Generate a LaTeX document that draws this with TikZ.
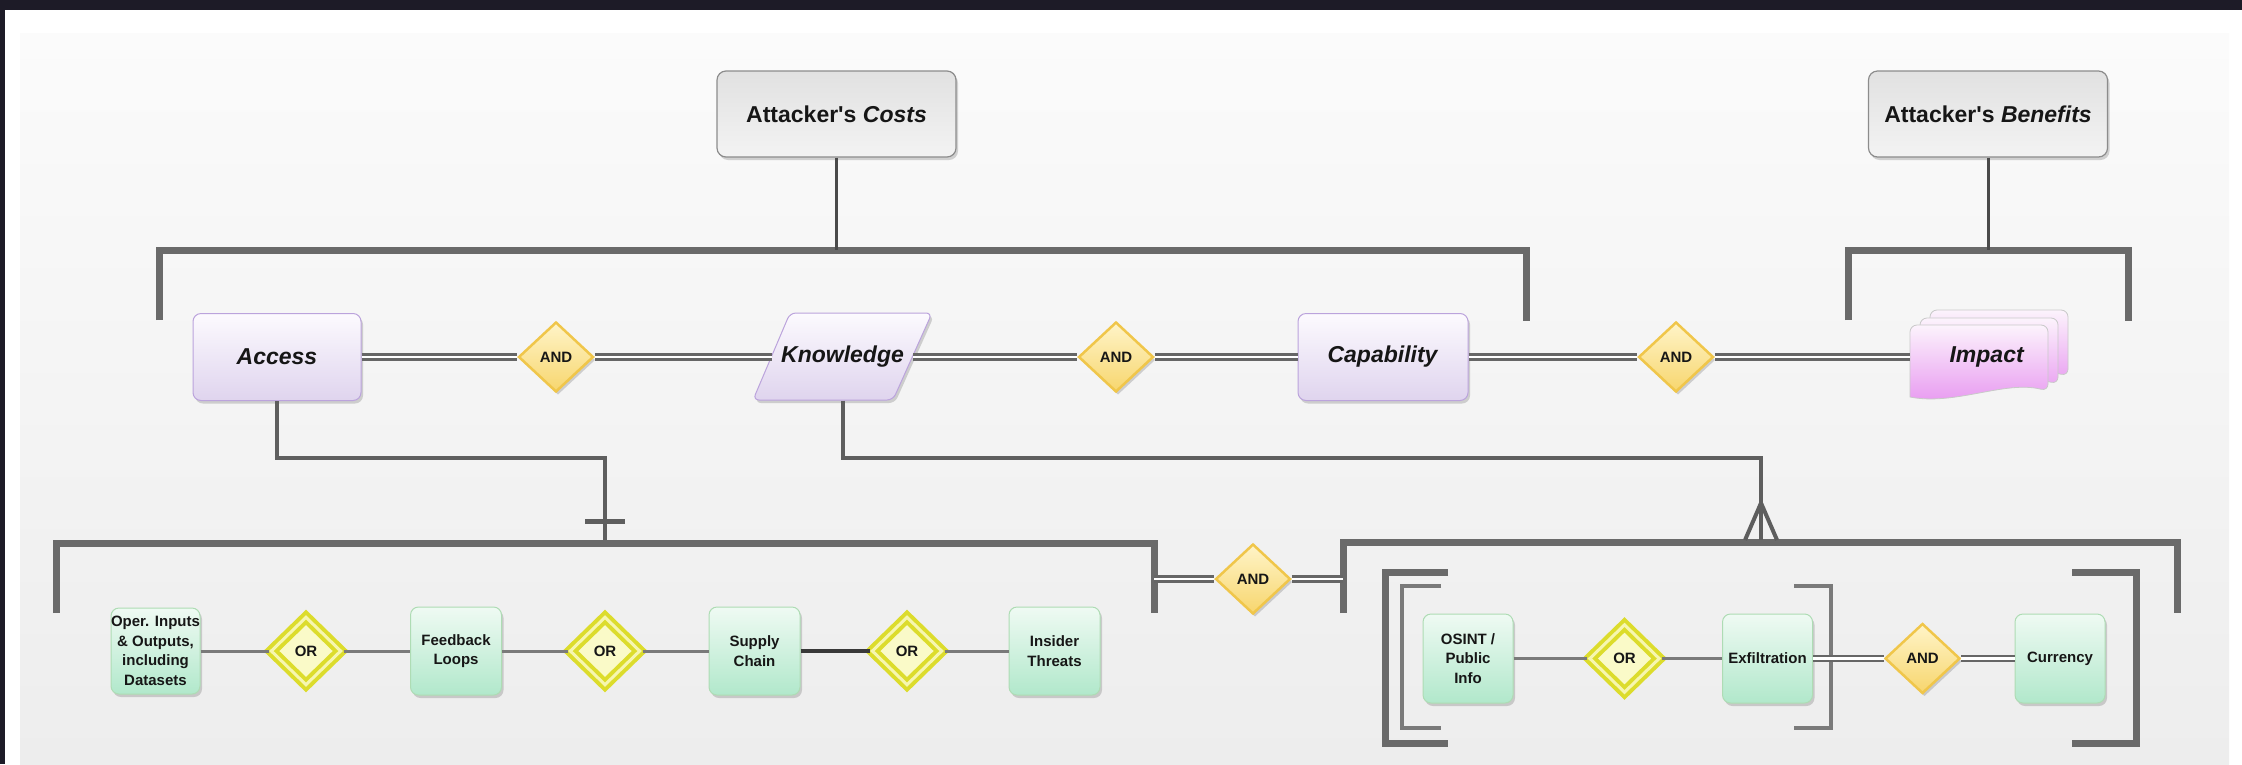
\documentclass[tikz,border=0pt]{standalone}
\usepackage{fontspec}
\newfontfamily\labfont{Liberation Sans}
\usetikzlibrary{shapes.geometric,shadows}

\definecolor{frame}{HTML}{1D1B27}
\definecolor{panelTop}{HTML}{FBFBFB}
\definecolor{panelBot}{HTML}{EDEDED}
\definecolor{barGray}{HTML}{6A6A6A}
\definecolor{leadGray}{HTML}{5E5E5E}
\definecolor{stemGray}{HTML}{4A4A4A}
\definecolor{thinGray}{HTML}{7A7A7A}
\definecolor{dlineGray}{HTML}{666666}
\definecolor{costEdge}{HTML}{8C8C8C}
\definecolor{costTop}{HTML}{E1E1E1}
\definecolor{costBot}{HTML}{F3F3F3}
\definecolor{purpEdge}{HTML}{BBA3DC}
\definecolor{purpTop}{HTML}{FCFAFE}
\definecolor{purpBot}{HTML}{DFD4EE}
\definecolor{greenEdge}{HTML}{AEDCB4}
\definecolor{greenTop}{HTML}{EFFAF3}
\definecolor{greenBot}{HTML}{B1E8CB}
\definecolor{andEdge}{HTML}{F0C64A}
\definecolor{andTop}{HTML}{FFF4C8}
\definecolor{andBot}{HTML}{F7D66E}
\definecolor{orOuter}{HTML}{DCDC2C}
\definecolor{orPale}{HTML}{F6F6B0}
\definecolor{orCenter}{HTML}{FAFAC8}
\definecolor{pinkTop}{HTML}{FCF3FC}
\definecolor{pinkBot}{HTML}{E796F0}
\definecolor{pageEdge}{HTML}{C9C9C9}
\definecolor{ink}{HTML}{161616}

\tikzset{
  softshadow/.style={drop shadow={shadow xshift=2pt,shadow yshift=-3pt,opacity=0.3,fill=black!55}},
  bigtxt/.style={font=\labfont\bfseries\fontsize{23}{27}\selectfont,text=ink},
  smalltxt/.style={font=\labfont\bfseries\fontsize{15}{19.5}\selectfont,text=ink},
  costbox/.style={bigtxt,rectangle,rounded corners=9pt,draw=costEdge,line width=1.2pt,
    top color=costTop,bottom color=costBot,minimum width=239pt,minimum height=86pt,
    inner sep=0pt,softshadow},
  purplebox/.style={bigtxt,rectangle,rounded corners=8pt,draw=purpEdge,line width=1pt,
    top color=purpTop,bottom color=purpBot,minimum width=168pt,minimum height=87pt,
    inner sep=0pt,softshadow},
  purpleshape/.style={draw=purpEdge,line width=1pt,top color=purpTop,bottom color=purpBot,softshadow},
  greenbox/.style={smalltxt,rectangle,rounded corners=8pt,draw=greenEdge,line width=1pt,
    top color=greenTop,bottom color=greenBot,minimum width=91pt,minimum height=88pt,
    inner sep=0pt,align=center,softshadow},
  andgate/.style={smalltxt,diamond,minimum width=75pt,minimum height=70pt,inner sep=0pt,
    draw=andEdge,line width=2.5pt,top color=andTop,bottom color=andBot,softshadow},
  orgate/.style={smalltxt,diamond,minimum width=71pt,minimum height=69pt,inner sep=0pt,
    draw=orOuter,line width=4pt,double=orPale,double distance=3pt,fill=orCenter,softshadow},
  page/.style={draw=pageEdge,line width=0.8pt,top color=pinkTop,bottom color=pinkBot},
  bar/.style={draw=barGray,line width=7pt},
  thinbar/.style={draw=thinGray,line width=4pt},
  stem/.style={draw=stemGray,line width=3pt},
  lead/.style={draw=leadGray,line width=4pt},
  gline/.style={draw=thinGray,line width=3pt},
  darkline/.style={draw=ink!85,line width=3.5pt},
  dline/.style={draw=dlineGray,line width=2.6pt,double=white,double distance=2.6pt},
}

\begin{document}
\begin{tikzpicture}[x=1pt,y=-1pt]
\useasboundingbox (0,0) rectangle (2242,764);

% backdrop and canvas
\fill[frame] (0,0) rectangle (2242,764);
\fill[white] (5,10) rectangle (2242,764);
\shade[top color=panelTop,bottom color=panelBot] (20,33) rectangle (2229,764);

% ---------- brackets ----------
\draw[bar] (159,320) -- (159,250) -- (1526,250) -- (1526,321);
\draw[bar] (1848,320) -- (1848,250) -- (2128,250) -- (2128,321);
\draw[bar] (56,613) -- (56,543) -- (1154,543) -- (1154,613);
\draw[bar] (1343,613) -- (1343,542) -- (2177,542) -- (2177,613);
% nested brackets around the right-hand group
\draw[bar] (1448,572) -- (1385,572) -- (1385,743) -- (1448,743);
\draw[bar] (2072,572) -- (2136,572) -- (2136,743) -- (2072,743);
\draw[thinbar] (1441,586) -- (1402,586) -- (1402,728) -- (1441,728);
\draw[thinbar] (1794,586) -- (1831,586) -- (1831,728) -- (1794,728);

% ---------- top boxes ----------
\node[costbox] (costs) at (836.5,114) {Attacker's \textit{Costs}};
\node[costbox] (benefits) at (1988,114) {Attacker's \textit{Benefits}};
\coordinate (costbar) at (836.5,250);
\coordinate (benbar) at (1988,250);
\draw[stem] (costs.south) -- (costbar);
\draw[stem] (benefits.south) -- (benbar);

% ---------- main row ----------
\node[purplebox] (access) at (277,357) {\textit{Access}};
\path[purpleshape] (753,400) [rounded corners=6pt] -- (790,313) -- (932,313) -- (893,400) -- cycle;
\node[bigtxt,minimum width=141pt,minimum height=87pt,inner sep=0pt] (kn) at (842.5,357) {\textit{Knowledge}};
\node[purplebox,minimum width=170pt] (cap) at (1383,357) {\textit{Capability}};

% stacked pages of the impact symbol
\foreach \dx/\dy in {20/-15,10/-7,0/0}{
  \begin{scope}[shift={(\dx,\dy)}]
    \draw[page] (1910,397) [rounded corners=7pt] -- (1910,325) -- (2048,325) -- (2048,391)
      [sharp corners] .. controls (2005,380) and (1955,406) .. (1910,397) -- cycle;
  \end{scope}
}
\node[bigtxt,minimum width=138pt,minimum height=72pt,inner sep=0pt] (imp) at (1979,357)
  {\hspace*{16pt}\textit{Impact}};

\node[andgate] (and1) at (556,357) {AND};
\node[andgate] (and2) at (1116,357) {AND};
\node[andgate] (and3) at (1676,357) {AND};

\draw[dline] (access.east) -- (and1.west);
\draw[dline] (and1.east) -- (kn.west);
\draw[dline] (kn.east) -- (and2.west);
\draw[dline] (and2.east) -- (cap.west);
\draw[dline] (cap.east) -- (and3.west);
\draw[dline] (and3.east) -- (imp.west);

% ---------- leads down to the lower groups ----------
\coordinate (accjoin) at (605,540);
\coordinate (kncrow) at (1761,540);
\draw[lead] (access.south) -- ++(0,57) -| (accjoin);
\draw[lead] (kn.south) -- ++(0,57) -| (kncrow);
\draw[draw=leadGray,line width=5pt] ([xshift=-20pt,yshift=19pt]accjoin) -- ([xshift=20pt,yshift=19pt]accjoin);
\draw[lead] ([xshift=-16pt]kncrow) -- ([yshift=37pt]kncrow) -- ([xshift=16pt]kncrow);

% ---------- lower left group ----------
\node[greenbox,minimum width=89pt,minimum height=86pt] (oper) at (155.5,651)
  {Oper. Inputs\\\& Outputs,\\including\\Datasets};
\node[greenbox] (fb) at (456,651) {Feedback\\Loops};
\node[greenbox] (sc) at (754.5,651) {Supply\\Chain};
\node[greenbox] (ins) at (1054.5,651) {Insider\\Threats};
\node[orgate] (or1) at (306,651) {OR};
\node[orgate] (or2) at (605,651) {OR};
\node[orgate] (or3) at (907,651) {OR};
\draw[gline] (oper.east) -- (or1.west);
\draw[gline] (or1.east) -- (fb.west);
\draw[gline] (fb.east) -- (or2.west);
\draw[gline] (or2.east) -- (sc.west);
\draw[darkline] (sc.east) -- (or3.west);
\draw[gline] (or3.east) -- (ins.west);

% ---------- junction between the two groups ----------
\node[andgate] (midand) at (1253,579) {AND};
\coordinate (lbr) at (1154,579);
\coordinate (rbr) at (1343,579);
\draw[dline] (lbr) -- (midand.west);
\draw[dline] (midand.east) -- (rbr);

% ---------- lower right group ----------
\node[greenbox,minimum width=90pt,minimum height=89pt] (osint) at (1468,658.5) {OSINT /\\Public\\Info};
\node[greenbox,minimum width=90pt,minimum height=89pt] (exf) at (1767.5,658.5) {Exfiltration};
\node[greenbox,minimum width=90pt,minimum height=89pt] (cur) at (2060,658.5) {Currency};
\node[orgate] (or4) at (1624.5,658.5) {OR};
\node[andgate] (and4) at (1922.5,658.5) {AND};
\draw[gline] (osint.east) -- (or4.west);
\draw[gline] (or4.east) -- (exf.west);
\draw[dline] (exf.east) -- (and4.west);
\draw[dline] (and4.east) -- (cur.west);
\end{tikzpicture}
\end{document}
